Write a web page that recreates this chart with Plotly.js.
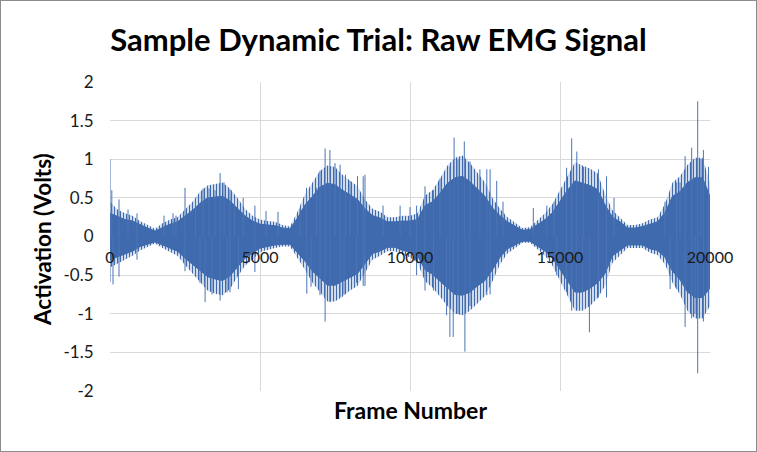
<!DOCTYPE html>
<html>
<head>
<meta charset="utf-8">
<script src="https://cdn.plot.ly/plotly-3.0.1.min.js"></script>
<style>
  html, body { margin: 0; padding: 0; background: #fff; }
  #wrap { position: relative; width: 757px; height: 452px; }
  #chart { position: absolute; left: 0; top: 0; width: 757px; height: 452px; }
  #frame { position: absolute; left: 0; top: 0; width: 757px; height: 452px; box-sizing: border-box; border: 1px solid #8c8c8c; pointer-events: none; }
</style>
</head>
<body>
<div id="wrap"><div id="chart"></div><div id="frame"></div></div>
<script>
// Envelopes of the EMG band, read every 250 frames (0 … 20000)
const frames = [];
for (let f = 0; f <= 20000; f += 250) frames.push(f);
// outer edge of the hairy fringe
const fringeUpper = [0.45,0.35,0.3,0.27,0.2,0.15,0.1,0.17,0.22,0.25,0.35,0.45,0.58,0.66,0.68,0.7,
  0.62,0.5,0.36,0.27,0.22,0.2,0.19,0.15,0.13,0.32,0.55,0.7,0.85,0.92,0.9,0.8,
  0.72,0.65,0.48,0.36,0.32,0.25,0.25,0.27,0.27,0.3,0.53,0.6,0.75,0.92,1.02,1.05,
  0.95,0.82,0.7,0.5,0.36,0.25,0.18,0.11,0.12,0.21,0.3,0.42,0.6,0.8,0.96,0.92,
  0.88,0.82,0.55,0.34,0.25,0.15,0.15,0.17,0.22,0.25,0.42,0.7,0.78,0.93,1.02,1.02,0.7];
const fringeLower = [-0.4,-0.35,-0.3,-0.25,-0.18,-0.13,-0.09,-0.15,-0.2,-0.25,-0.37,-0.48,-0.58,-0.7,-0.74,-0.76,
  -0.68,-0.52,-0.38,-0.3,-0.2,-0.17,-0.15,-0.13,-0.13,-0.28,-0.43,-0.6,-0.72,-0.84,-0.84,-0.78,
  -0.7,-0.64,-0.47,-0.3,-0.25,-0.19,-0.19,-0.24,-0.27,-0.34,-0.58,-0.66,-0.78,-0.9,-1.0,-1.02,
  -0.96,-0.86,-0.77,-0.58,-0.36,-0.22,-0.15,-0.08,-0.08,-0.17,-0.25,-0.38,-0.58,-0.76,-0.96,-0.96,
  -0.9,-0.8,-0.64,-0.34,-0.24,-0.15,-0.15,-0.15,-0.21,-0.24,-0.36,-0.6,-0.75,-0.96,-1.06,-1.06,-0.9];
// solid dense core
const coreUpper = [0.3,0.26,0.22,0.2,0.15,0.11,0.07,0.12,0.16,0.19,0.26,0.34,0.43,0.5,0.51,0.52,
  0.46,0.37,0.27,0.2,0.16,0.15,0.14,0.11,0.1,0.24,0.41,0.52,0.64,0.69,0.67,0.6,
  0.54,0.48,0.36,0.27,0.24,0.19,0.19,0.2,0.2,0.22,0.4,0.45,0.56,0.69,0.76,0.78,
  0.71,0.61,0.52,0.37,0.27,0.19,0.13,0.08,0.09,0.16,0.22,0.31,0.45,0.6,0.72,0.69,
  0.66,0.61,0.41,0.25,0.19,0.11,0.11,0.13,0.16,0.19,0.31,0.52,0.58,0.7,0.76,0.76,0.52];
const coreLower = [-0.3,-0.26,-0.22,-0.19,-0.13,-0.1,-0.07,-0.11,-0.15,-0.19,-0.28,-0.36,-0.43,-0.52,-0.55,-0.57,
  -0.51,-0.39,-0.28,-0.22,-0.15,-0.13,-0.11,-0.1,-0.1,-0.21,-0.32,-0.45,-0.54,-0.63,-0.63,-0.58,
  -0.52,-0.48,-0.35,-0.22,-0.19,-0.14,-0.14,-0.18,-0.2,-0.25,-0.43,-0.49,-0.58,-0.67,-0.75,-0.76,
  -0.72,-0.64,-0.57,-0.43,-0.27,-0.16,-0.11,-0.06,-0.06,-0.13,-0.19,-0.28,-0.43,-0.57,-0.72,-0.72,
  -0.67,-0.6,-0.48,-0.25,-0.18,-0.11,-0.11,-0.11,-0.16,-0.18,-0.27,-0.45,-0.56,-0.72,-0.79,-0.79,-0.67];

// Individual spikes that stand out of the band (frame, volts)
const spikeFrames = [0,60,300,600,900,1800,2100,2200,2500,2850,3100,3300,3500,3670,3800,4000,4150,4440,4830,5200,5600,
  6330,6550,6890,7000,7170,7330,7500,7670,7850,8000,8250,8440,8500,9100,9670,10000,10220,10500,10780,11000,11330,
  11470,11600,11810,12000,12330,12560,12670,12890,13100,14110,14560,14800,15220,15390,15560,15780,16280,16550,16800,
  18500,18890,19000,19170,19390,19590,19700,19780,19950,
  0,100,300,900,2500,3000,3170,3400,3670,3900,4000,4280,4830,6560,6700,7000,7170,7330,7670,7800,8220,8440,8500,
  10220,10500,10780,11220,11330,11440,11600,11830,12000,12560,12670,14890,15220,15390,15560,15750,15980,16280,16550,
  18670,18890,19170,19390,19500,19590,19780,19950];
const spikeValues = [1.0,0.6,0.48,0.35,0.3,0.27,0.3,0.27,0.63,0.5,0.62,0.62,0.6,0.82,0.7,0.61,0.5,0.5,0.4,0.33,0.32,
  0.36,0.63,0.63,0.85,1.14,1.12,0.95,0.93,0.8,0.72,0.78,0.78,0.8,0.4,0.4,0.38,0.4,0.65,0.6,0.75,0.91,
  1.28,1.0,1.23,0.97,0.87,0.87,0.87,0.72,0.45,0.37,0.4,0.45,0.89,1.27,1.1,0.9,0.87,0.78,0.5,
  0.45,0.7,0.7,1.04,1.15,1.75,1.0,1.12,0.9,
  -0.59,-0.62,-0.52,-0.3,-0.45,-0.6,-0.85,-0.75,-0.83,-0.72,-0.72,-0.68,-0.46,-0.74,-0.65,-0.76,-1.1,-0.85,-0.78,-0.75,-0.6,-0.64,-0.64,
  -0.5,-0.7,-0.7,-1.02,-1.3,-1.3,-1.0,-1.49,-0.9,-0.76,-0.75,-0.5,-0.72,-0.96,-0.94,-0.95,-1.24,-0.79,-0.79,
  -0.68,-0.68,-1.17,-1.06,-1.0,-1.77,-1.1,-0.85];

const xTicks = [0, 5000, 10000, 15000, 20000];
const xTickLabels = ['0', '5000', '10000', '15000', '20000'];
const yTicks = [-2, -1.5, -1, -0.5, 0, 0.5, 1, 1.5, 2];
const yTickLabels = ['-2', '-1.5', '-1', '-0.5', '0', '0.5', '1', '1.5', '2'];

const blue = '#3f6aae';
const sx = [], sy = [];
for (let i = 0; i < spikeFrames.length; i++) {
  sx.push(spikeFrames[i], spikeFrames[i], null);
  sy.push(0, spikeValues[i], null);
}

const traces = [
  { x: frames, y: fringeUpper, mode: 'lines', line: { color: blue, width: 0 }, hoverinfo: 'skip', showlegend: false },
  { x: frames, y: fringeLower, mode: 'lines', fill: 'tonexty', fillcolor: 'rgba(0,0,0,0)',
    fillpattern: { shape: '|', fgcolor: blue, bgcolor: 'rgba(255,255,255,0)', size: 3, solidity: 0.5 },
    line: { color: blue, width: 0 }, hoverinfo: 'skip', showlegend: false },
  { x: frames, y: coreUpper, mode: 'lines', line: { color: blue, width: 1 }, hoverinfo: 'skip', showlegend: false },
  { x: frames, y: coreLower, mode: 'lines', fill: 'tonexty', fillcolor: blue, line: { color: blue, width: 1 }, hoverinfo: 'skip', showlegend: false },
  { x: sx, y: sy, mode: 'lines', line: { color: '#4a74b6', width: 1 }, connectgaps: false, hoverinfo: 'skip', showlegend: false },
  { x: [xTicks[0], xTicks[xTicks.length - 1]], y: [0, 0], xaxis: 'x2', mode: 'lines', line: { width: 0 }, hoverinfo: 'skip', showlegend: false }
];

const font = 'Lato, "Open Sans", sans-serif';
const layout = {
  width: 757, height: 452,
  margin: { l: 110, r: 47, t: 82, b: 61 },
  paper_bgcolor: '#fff', plot_bgcolor: '#fff',
  showlegend: false,
  title: { text: '<b>Sample Dynamic Trial: Raw EMG Signal</b>', font: { family: font, size: 31, color: '#000' }, x: 0.5, xanchor: 'center', y: 1 - 40/452, yanchor: 'middle' },
  xaxis: {
    range: [0, 20000], tickvals: xTicks, showticklabels: false,
    showgrid: true, gridcolor: '#d9d9d9', gridwidth: 1, zeroline: false, showline: false, ticks: ''
  },
  xaxis2: {
    range: [0, 20000], overlaying: 'x', anchor: 'free', position: 0.5, side: 'bottom',
    tickvals: xTicks, ticktext: xTickLabels,
    showgrid: false, zeroline: false, showline: false,
    ticks: 'outside', ticklen: 6, tickcolor: 'rgba(0,0,0,0)',
    tickfont: { family: font, size: 16, color: '#1a1a1a' }
  },
  yaxis: {
    range: [-2, 2], tickvals: yTicks, ticktext: yTickLabels,
    showgrid: true, gridcolor: '#d9d9d9', gridwidth: 1, zeroline: false,
    showline: false, ticks: 'outside', ticklen: 12, tickcolor: 'rgba(0,0,0,0)',
    tickfont: { family: font, size: 17, color: '#1a1a1a' }
  },
  annotations: [
    { text: '<b>Frame Number</b>', xref: 'paper', yref: 'paper', x: 0.5, y: (391 - 410) / 309, xanchor: 'center', yanchor: 'middle', showarrow: false, font: { family: font, size: 23, color: '#000' } },
    { text: '<b>Activation (Volts)</b>', xref: 'paper', yref: 'paper', x: (43 - 110) / 600, y: (391 - 240) / 309, xanchor: 'center', yanchor: 'middle', textangle: -90, showarrow: false, font: { family: font, size: 22.5, color: '#000' } }
  ]
};

Plotly.newPlot('chart', traces, layout, { displayModeBar: false, staticPlot: true });
</script>
</body>
</html>
